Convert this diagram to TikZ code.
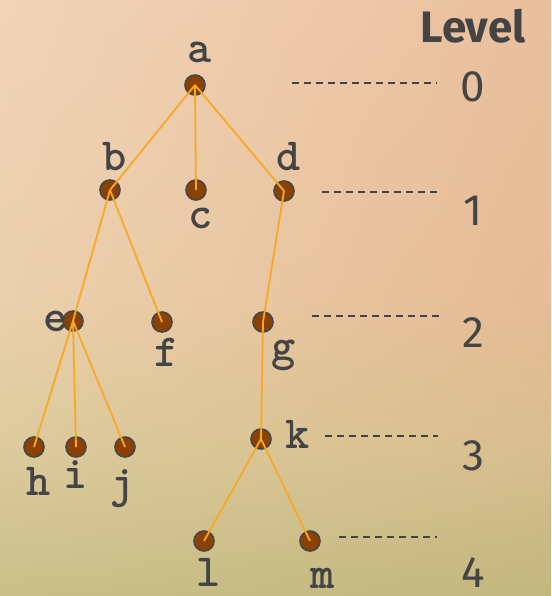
\documentclass[tikz,border=0pt]{standalone}
\usepackage{fontspec}
\usepackage{tikz}
\usetikzlibrary{positioning,shadings}
\newfontfamily\lvlfont{Fira Sans}
\definecolor{dotbrown}{HTML}{8B4200}
\definecolor{dotrim}{HTML}{464646}
\definecolor{edgeorange}{HTML}{F9A825}
\definecolor{inkgray}{HTML}{444444}
\definecolor{bgA}{HTML}{F2D4B9}
\definecolor{bgB}{HTML}{E9BF9D}
\definecolor{bgC}{HTML}{EAD0AC}
\definecolor{bgD}{HTML}{E6BB95}
\definecolor{bgE}{HTML}{DCCA9C}
\definecolor{bgF}{HTML}{D8BE8E}
\definecolor{bgG}{HTML}{C8C088}
\definecolor{bgH}{HTML}{C2B77F}
\tikzstyle{vertex}=[circle,fill=dotbrown,draw=dotrim,line width=1.6pt,minimum size=20pt,inner sep=0pt]
\tikzstyle{lbl}=[inner sep=0pt,text=inkgray,font=\fontsize{46}{46}\selectfont\ttfamily\bfseries]
\tikzstyle{lvlnum}=[inner sep=0pt,text=inkgray,font=\fontsize{44}{44}\selectfont\lvlfont]
\tikzstyle{edge}=[edgeorange,line width=1.8pt]
\tikzstyle{guide}=[inkgray,line width=1.5pt,dash pattern=on 7pt off 5pt]

\begin{document}
\begin{tikzpicture}[x=1pt,y=-1pt]
    % background
    \shade[upper left=bgA,upper right=bgB,lower left=bgC,lower right=bgD] (0,0) rectangle (551,299);
    \shade[upper left=bgC,upper right=bgD,lower left=bgE,lower right=bgF] (0,298) rectangle (551,451);
    \shade[upper left=bgE,upper right=bgF,lower left=bgG,lower right=bgH] (0,450) rectangle (551,596);
    \useasboundingbox (0,0) rectangle (551,596);

    \node[vertex] (a) at (195,85) {};
    \node[vertex] (b) at (110,190) {};
    \node[vertex] (c) at (196,190) {};
    \node[vertex] (d) at (284,191) {};
    \node[vertex] (e) at (73,321) {};
    \node[vertex] (f) at (162,322) {};
    \node[vertex] (g) at (263,322) {};
    \node[vertex] (h) at (34,447) {};
    \node[vertex] (i) at (76,447) {};
    \node[vertex] (j) at (125,447) {};
    \node[vertex] (k) at (261,439) {};
    \node[vertex] (l) at (204,541) {};
    \node[vertex] (m) at (310,541) {};

    \draw[edge] (a.center) -- (b.center);
    \draw[edge] (a.center) -- (c.center);
    \draw[edge] (a.center) -- (d.center);
    \draw[edge] (b.center) -- (e.center);
    \draw[edge] (b.center) -- (f.center);
    \draw[edge] (d.center) -- (g.center);
    \draw[edge] (e.center) -- (h.center);
    \draw[edge] (e.center) -- (i.center);
    \draw[edge] (e.center) -- (j.center);
    \draw[edge] (g.center) -- (k.center);
    \draw[edge] (k.center) -- (l.center);
    \draw[edge] (k.center) -- (m.center);

    \node[lbl] (ta) at (200,52) {a};
    \node[lbl] (tb) at (115,157) {b};
    \node[lbl] (tc) at (201,218) {c};
    \node[lbl] (td) at (289,157) {d};
    \node[lbl] (te) at (56,321) {e};
    \node[lbl] (tf) at (167,352) {f};
    \node[lbl] (tg) at (284,355) {g};
    \node[lbl] (th) at (39,481) {h};
    \node[lbl] (ti) at (76,475) {i};
    \node[lbl] (tj) at (123,489) {j};
    \node[lbl] (tk) at (298,434) {k};
    \node[lbl] (tl) at (209,572) {l};
    \node[lbl] (tm) at (323,578) {m};

    \node[lvlnum,font=\fontsize{44}{44}\selectfont\lvlfont\bfseries] (level) at (473,26) {Level};
    \node[lvlnum] (n0) at (473,87) {0};
    \node[lvlnum] (n1) at (473,211) {1};
    \node[lvlnum] (n2) at (473,333) {2};
    \node[lvlnum] (n3) at (473,456) {3};
    \node[lvlnum] (n4) at (473,573) {4};

    \coordinate (s0) at (292,83);  \coordinate (e0) at (437,83);
    \coordinate (s1) at (322,192); \coordinate (e1) at (437,192);
    \coordinate (s2) at (312,316); \coordinate (e2) at (440,316);
    \coordinate (s3) at (325,436); \coordinate (e3) at (438,436);
    \coordinate (s4) at (339,537); \coordinate (e4) at (437,537);
    \foreach \n in {0,...,4}
        \draw[guide] (s\n) -- (e\n);
\end{tikzpicture}
\end{document}
